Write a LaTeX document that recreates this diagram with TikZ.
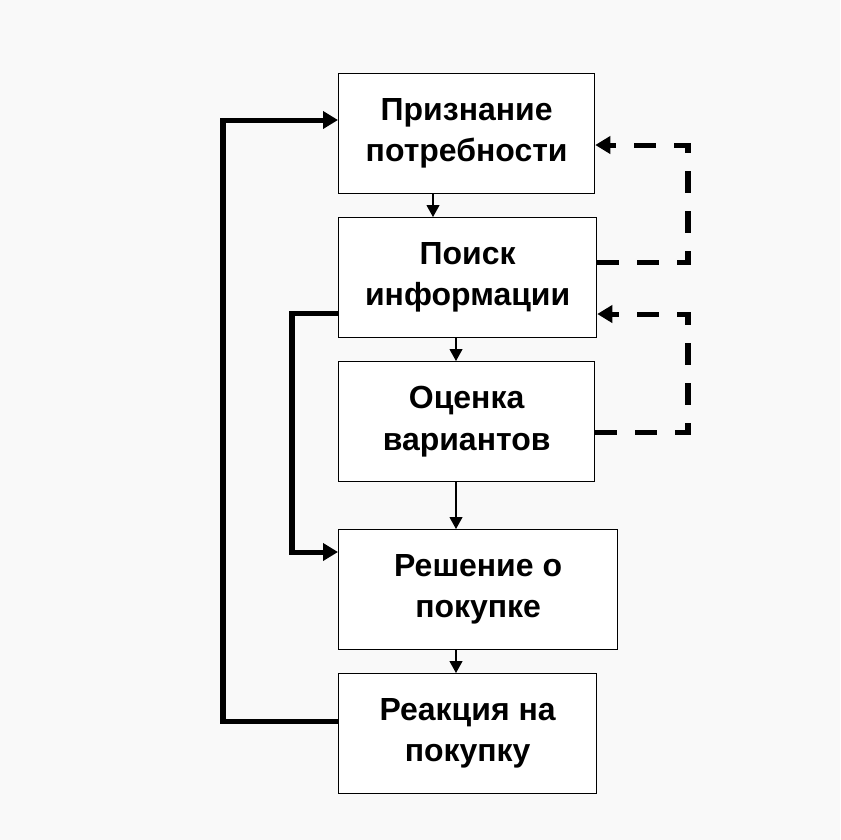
\documentclass[tikz,border=0pt]{standalone}
\usepackage{fontspec}
\setmainfont{Liberation Sans}
\usetikzlibrary{arrows.meta}
\definecolor{hgrund}{HTML}{F9F9F9}
\def\pfeil#1#2#3{\draw[->,line width=0.6pt] (#1.south -| #3) -- (#2.north -| #3);}

\begin{document}
\begin{tikzpicture}[x=0.02cm,y=-0.02cm,>={Triangle[length=0.24cm,width=0.26cm]},
  kasten/.style={draw,line width=0.75pt,fill=white,anchor=north west,align=center,
    minimum height=2.4cm,inner sep=0pt,font=\fontsize{18.2}{23.5}\selectfont\bfseries},
  rueck/.style={line width=2.85pt,-{Triangle[length=0.3cm,width=0.34cm]}},
  rueckg/.style={rueck,dash pattern=on 0.44cm off 0.36cm}]
\fill[hgrund] (0,0) rectangle (840,840);
\node[kasten,minimum width=5.12cm] (B) at (338,73) {Признание\\потребности};
\node[kasten,minimum width=5.16cm] (I) at (338,217) {Поиск\\информации};
\node[kasten,minimum width=5.12cm] (O) at (338,361) {Оценка\\вариантов};
\node[kasten,minimum width=5.58cm] (E) at (338,529) {Решение о\\покупке};
\node[kasten,minimum width=5.16cm] (R) at (338,673) {Реакция на\\покупку};
\coordinate (X1) at (433,0);
\coordinate (X2) at (456,0);
\pfeil{B}{I}{X1}
\pfeil{I}{O}{X2}
\pfeil{O}{E}{X2}
\pfeil{E}{R}{X2}
\coordinate (L1) at (223,721);
\coordinate (L2) at (223,120);
\draw[rueck] (R.west |- L1) -- (L1) -- (L2) -- (B.west |- L2);
\coordinate (M1) at (292,313);
\coordinate (M2) at (292,552);
\draw[rueck] (I.west |- M1) -- (M1) -- (M2) -- (E.west |- M2);
\coordinate (D1) at (688,262);
\coordinate (D2) at (688,145);
\draw[rueckg] (I.east |- D1) -- (D1) -- (D2) -- (B.east |- D2);
\coordinate (D3) at (688,432);
\coordinate (D4) at (688,314);
\draw[rueckg] (O.east |- D3) -- (D3) -- (D4) -- (I.east |- D4);
\end{tikzpicture}
\end{document}
